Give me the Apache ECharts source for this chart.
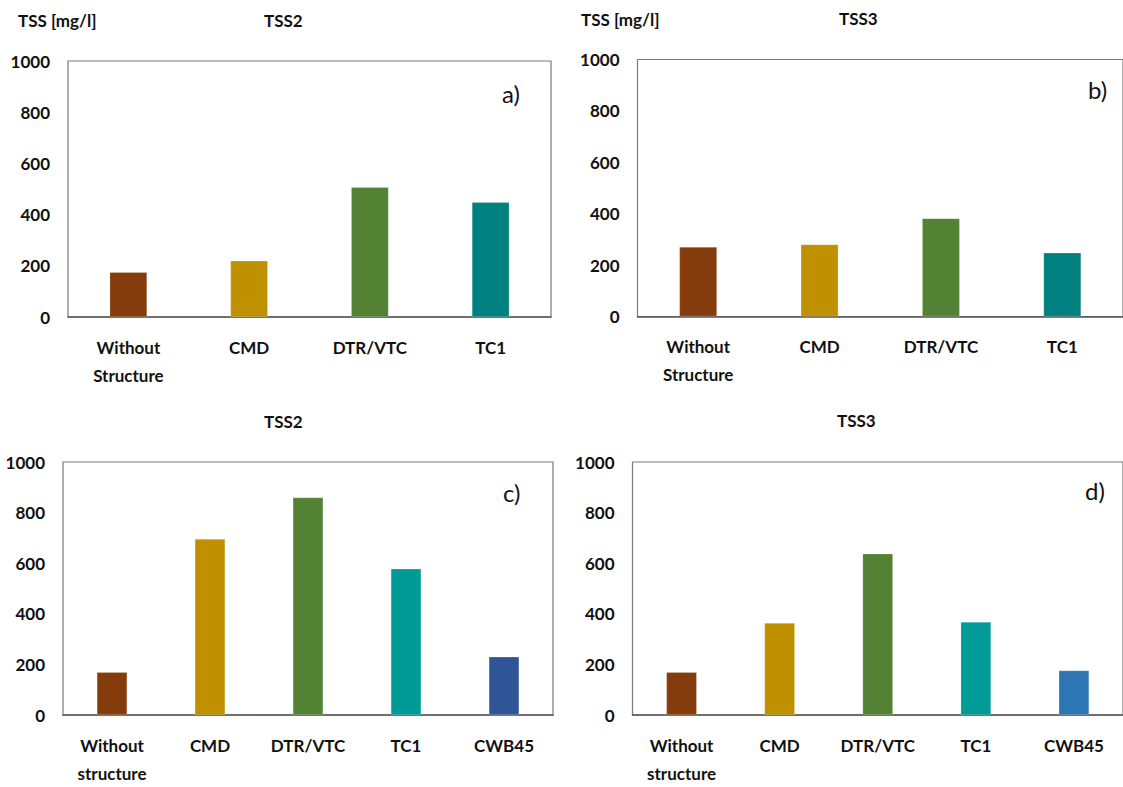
<!DOCTYPE html>
<html>
<head>
<meta charset="utf-8">
<script src="https://cdn.jsdelivr.net/npm/echarts@6/dist/echarts.min.js"></script>
<style>
html,body{margin:0;padding:0;background:#fff;}
#chart{width:1123px;height:787px;}
</style>
</head>
<body>
<div id="chart"></div>
<script>
// ---- data ----
var categoriesAB = ['Without\nStructure', 'CMD', 'DTR/VTC', 'TC1'];
var categoriesCD = ['Without\nstructure', 'CMD', 'DTR/VTC', 'TC1', 'CWB45'];
var tss2A = [175, 220, 507, 448];
var tss3B = [271, 280, 382, 248];
var tss2C = [169, 696, 860, 578, 230];
var tss3D = [169, 364, 638, 368, 176];
var yTicks = [0, 200, 400, 600, 800, 1000];
var colorsAB = ['#843C0C', '#BF9000', '#548235', '#00807F'];
var colorsC = ['#843C0C', '#BF9000', '#548235', '#009A97', '#2F5597'];
var colorsD = ['#843C0C', '#BF9000', '#548235', '#009A97', '#2E75B6'];

var FONT = 'Lato, "Open Sans", sans-serif';
var chart = echarts.init(document.getElementById('chart'), null, {renderer: 'svg'});

var grids = [
  {left: 68, top: 61, width: 483, height: 256},
  {left: 637.5, top: 59.5, width: 490, height: 257},
  {left: 63, top: 462, width: 490, height: 257},
  {left: 632.5, top: 462, width: 494, height: 257}
];
grids.forEach(function (g) {
  g.show = true; g.borderColor = '#7a7a7a'; g.borderWidth = 1.2; g.containLabel = false;
});

function xAx(i, cats) {
  return {
    type: 'category', gridIndex: i, data: cats,
    axisTick: {show: false},
    axisLine: {show: true, lineStyle: {color: '#555', width: 1.6}},
    axisLabel: {fontFamily: FONT, fontWeight: 'bold', fontSize: 17, color: '#111', margin: 16, lineHeight: 28, interval: 0}
  };
}
function yAx(i) {
  return {
    type: 'value', gridIndex: i, min: yTicks[0], max: yTicks[yTicks.length - 1], interval: yTicks[1] - yTicks[0],
    axisLine: {show: false}, axisTick: {show: false}, splitLine: {show: false},
    axisLabel: {fontFamily: FONT, fontWeight: 'bold', fontSize: 17, color: '#111', margin: 18,
                formatter: function (v) { return String(v); }}
  };
}
function bars(i, vals, cols) {
  return {
    type: 'bar', xAxisIndex: i, yAxisIndex: i, barWidth: '31%',
    data: vals.map(function (v, k) { return {value: v, itemStyle: {color: cols[k]}}; }),
    itemStyle: {borderColor: 'rgba(255,255,255,0.35)', borderWidth: 0.6}
  };
}
function txt(s, x, y, size, weight) {
  return {
    type: 'text', x: x, y: y,
    style: {text: s, fill: '#111', font: (weight || 'bold') + ' ' + size + 'px ' + FONT,
            textAlign: 'left', textVerticalAlign: 'middle', align: 'left', verticalAlign: 'middle'}
  };
}

chart.setOption({
  animation: false,
  backgroundColor: '#fff',
  grid: grids,
  xAxis: [xAx(0, categoriesAB), xAx(1, categoriesAB), xAx(2, categoriesCD), xAx(3, categoriesCD)],
  yAxis: [yAx(0), yAx(1), yAx(2), yAx(3)],
  series: [bars(0, tss2A, colorsAB), bars(1, tss3B, colorsAB), bars(2, tss2C, colorsC), bars(3, tss3D, colorsD)],
  graphic: [
    txt('TSS [mg/l]', 18, 20, 17),
    txt('TSS2', 264, 20, 17),
    txt('a)', 502, 93, 24, 'normal'),
    txt('TSS [mg/l]', 581, 19, 17),
    txt('TSS3', 839, 18, 17),
    txt('b)', 1088, 89, 24, 'normal'),
    txt('TSS2', 264, 421, 17),
    txt('c)', 503, 492, 24, 'normal'),
    txt('TSS3', 837, 420, 17),
    txt('d)', 1085, 490, 24, 'normal')
  ]
});
</script>
</body>
</html>
